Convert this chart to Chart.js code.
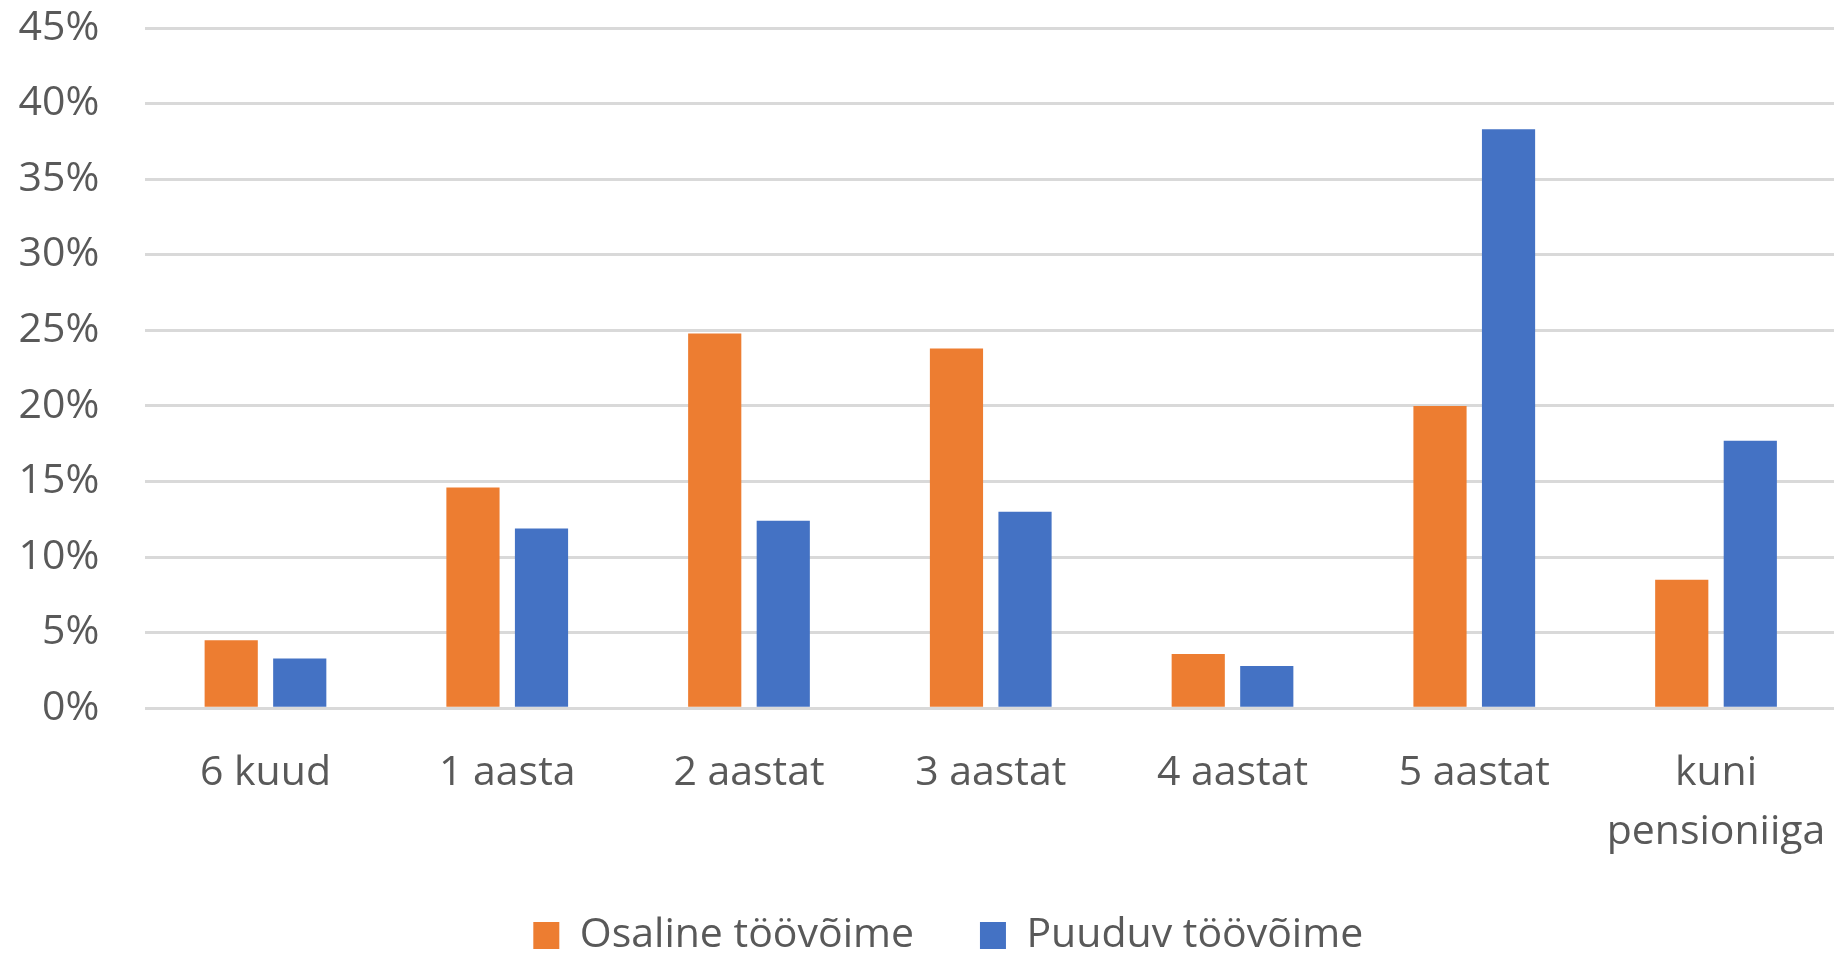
<!DOCTYPE html>
<html>
<head>
<meta charset="utf-8">
<script src="https://cdn.jsdelivr.net/npm/chart.js@4"></script>
<style>
  html, body { margin: 0; padding: 0; background: #fff; overflow: hidden; }
  #wrap { position: absolute; left: 0; top: 0; width: 1840px; height: 966px; }
</style>
</head>
<body>
<div id="wrap"><canvas id="c" width="1840" height="966"></canvas></div>
<script>
const categories = ['6 kuud', '1 aasta', '2 aastat', '3 aastat', '4 aastat', '5 aastat', ['kuni', 'pensioniiga']];
const seriesNames = ['Osaline töövõime', 'Puuduv töövõime'];
const osaline = [4.5, 14.6, 24.8, 23.8, 3.6, 20.0, 8.5];
const puuduv = [3.3, 11.9, 12.4, 13.0, 2.8, 38.3, 17.7];
const yTicks = [0, 5, 10, 15, 20, 25, 30, 35, 40, 45];

const FONT = "'Open Sans', sans-serif";
const TEXT = '#595959';

const tweak = {
  id: 'tweak',
  afterLayout(chart) {
    chart.legend.left += 29.8;
    chart.legend.right += 29.8;
    chart.scales.x.bottom += 40;
  }
};

new Chart(document.getElementById('c'), {
  type: 'bar',
  plugins: [tweak],
  data: {
    labels: categories,
    datasets: [
      { label: seriesNames[0], data: osaline, backgroundColor: '#ED7D31', borderWidth: 0,
        categoryPercentage: 0.567, barPercentage: 0.776 },
      { label: seriesNames[1], data: puuduv, backgroundColor: '#4472C4', borderWidth: 0,
        categoryPercentage: 0.567, barPercentage: 0.776 }
    ]
  },
  options: {
    responsive: false,
    animation: false,
    devicePixelRatio: 1,
    layout: { padding: { left: 0, right: 3.1, top: 28, bottom: 0 } },
    plugins: {
      tooltip: { enabled: false },
      legend: {
        position: 'bottom',
        labels: {
          font: { family: FONT, size: 41 },
          color: TEXT,
          boxWidth: 26,
          boxHeight: 27,
          padding: 66
        }
      }
    },
    scales: {
      x: {
        grid: { display: false, drawTicks: true, tickLength: 36, tickColor: 'rgba(0,0,0,0)' },
        border: { display: false },
        ticks: {
          font: { family: FONT, size: 41, lineHeight: 1.43 },
          color: TEXT,
          padding: 0,
          maxRotation: 0,
          autoSkip: false
        },
        afterFit: (s) => { s.height = 140.7; }
      },
      y: {
        min: 0,
        max: 45,
        afterBuildTicks: (s) => { s.ticks = yTicks.map(v => ({ value: v })); },
        grid: { color: '#D9D9D9', lineWidth: 3, drawTicks: true, tickLength: 45.2, tickColor: 'rgba(0,0,0,0)' },
        border: { display: false },
        ticks: {
          font: { family: FONT, size: 41 },
          color: TEXT,
          padding: 0,
          callback: (v) => v + '%'
        },
        afterFit: (s) => { s.width = 144.6; }
      }
    }
  }
});
</script>
</body>
</html>
